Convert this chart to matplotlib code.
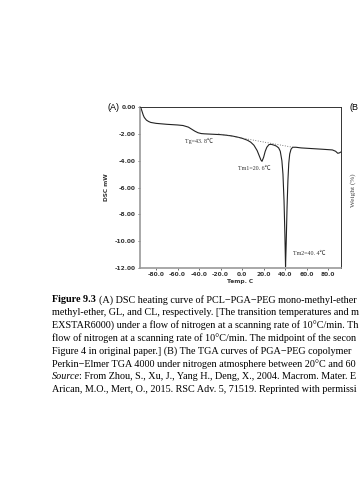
import matplotlib
matplotlib.use("Agg")
import matplotlib.pyplot as plt

# DSC heating curve
temp = [-95, -94, -93, -92, -91, -89, -87, -85, -80, -70, -60, -55, -50, -47, -44, -41,
        -38, -35, -30, -25, -20, -15, -10, -5, 0, 5, 8, 11, 14, 16, 17.5, 18.5, 20,
        21.5, 23, 25, 27, 30, 32, 34, 35.5, 37, 38, 39, 39.8, 40.4, 41, 41.8, 42.6,
        43.4, 44.3, 45.5, 47, 50, 55, 65, 75, 84, 87, 89, 90.5, 92]
dsc = [0.0, -0.1, -0.35, -0.6, -0.78, -0.98, -1.08, -1.15, -1.22, -1.29, -1.34, -1.38,
       -1.5, -1.65, -1.8, -1.92, -1.98, -2.0, -2.02, -2.04, -2.06, -2.1, -2.15, -2.23,
       -2.33, -2.48, -2.62, -2.85, -3.25, -3.65, -3.95, -4.05, -3.75, -3.3, -3.0, -2.8,
       -2.78, -2.85, -2.92, -3.05, -3.3, -4.0, -5.0, -7.0, -9.5, -11.9, -10.2, -7.5,
       -5.5, -4.2, -3.5, -3.15, -3.0, -3.0, -3.05, -3.1, -3.15, -3.2, -3.3, -3.45,
       -3.42, -3.35]
base_t = [-22, 47]
base_v = [-2.0, -3.0]

xticks = [-80, -60, -40, -20, 0, 20, 40, 60, 80]
yticks = [0, -2, -4, -6, -8, -10, -12]

# caption lines, only the part that shows on the page
caption = [
    "methyl-ether, GL, and CL, respectively. [The transition temperatures and m",
    "EXSTAR6000) under a flow of nitrogen at a scanning rate of 10\u00b0C/min. Th",
    "flow of nitrogen at a scanning rate of 10\u00b0C/min. The midpoint of the secon",
    "Figure 4 in original paper.] (B) The TGA curves of PGA\u2212PEG copolymer",
    "Perkin\u2212Elmer TGA 4000 under nitrogen atmosphere between 20\u00b0C and 60",
]

fig = plt.figure(figsize=(3.59, 4.8), dpi=100)
ax = fig.add_axes([140/359, 1 - 268/480, 201/359, 161/480])

ax.plot(temp, dsc, color="#222222", lw=0.8)
ax.plot(base_t, base_v, color="#555555", lw=0.6, ls=(0, (1, 2)))

ax.set_xlim(-95, 92)
ax.set_ylim(-12, 0)
ax.set_xticks(xticks)
ax.set_xticklabels(["%.1f" % t for t in xticks])
ax.set_yticks(yticks)
ax.set_yticklabels(["%.2f" % v for v in yticks])
ax.tick_params(labelsize=4.2, length=1.5, width=0.5, pad=1.5, colors="#333333")
for lab in ax.get_xticklabels() + ax.get_yticklabels():
    lab.set_fontweight("bold")
ax.set_xlabel("Temp. C", fontsize=4.2, fontweight="bold", labelpad=1, color="#333333")
ax.set_ylabel("DSC mW", fontsize=4.2, fontweight="bold", labelpad=4, color="#333333")
for s in ["left", "bottom"]:
    ax.spines[s].set_color("#999999")
    ax.spines[s].set_linewidth(1.2)
for s in ["top", "right"]:
    ax.spines[s].set_color("#333333")
    ax.spines[s].set_linewidth(0.7)

ann = ["Liberation Serif", "Noto Sans CJK SC"]
ax.text(-53, -2.5, "Tg=43. 8\u2103", fontsize=4.3, family=ann, color="#333333", va="center")
ax.text(-4, -4.6, "Tm1=20. 6\u2103", fontsize=4.3, family=ann, color="#333333", va="center")
ax.text(47, -10.95, "Tm2=40. 4\u2103", fontsize=4.3, family=ann, color="#333333", va="center")

fig.text(108/359, 1 - 107/480, "(A)", fontsize=6.5, va="center", family="Liberation Sans")
fig.text(349/359, 1 - 107/480, "(B", fontsize=6.5, va="center", family="Liberation Sans")
fig.text(353/359, 1 - 190/480, "Weight (%)", fontsize=5.2, rotation=90, ha="center",
         va="center", family="Liberation Serif", color="#444444")

serif = "Liberation Serif"
fs = 7.3
x0 = 52/359
lh = 12.8/480
y0 = 1 - 300/480
fig.text(x0, y0, "Figure 9.3", fontsize=fs, fontweight="bold", family=serif, va="center")
fig.text(99/359, y0, "(A) DSC heating curve of PCL\u2212PGA\u2212PEG mono-methyl-ether",
         fontsize=fs, family=serif, va="center")
for i, line in enumerate(caption):
    fig.text(x0, y0 - (i + 1) * lh, line, fontsize=fs, family=serif, va="center")
fig.text(x0, y0 - 6 * lh, "Source", fontsize=fs, family=serif, style="italic", va="center")
fig.text(79/359, y0 - 6 * lh, ": From Zhou, S., Xu, J., Yang H., Deng, X., 2004. Macrom. Mater. E",
         fontsize=fs, family=serif, va="center")
fig.text(x0, y0 - 7 * lh, "Arican, M.O., Mert, O., 2015. RSC Adv. 5, 71519. Reprinted with permissi",
         fontsize=fs, family=serif, va="center")

fig.savefig("out.png", dpi=100)
